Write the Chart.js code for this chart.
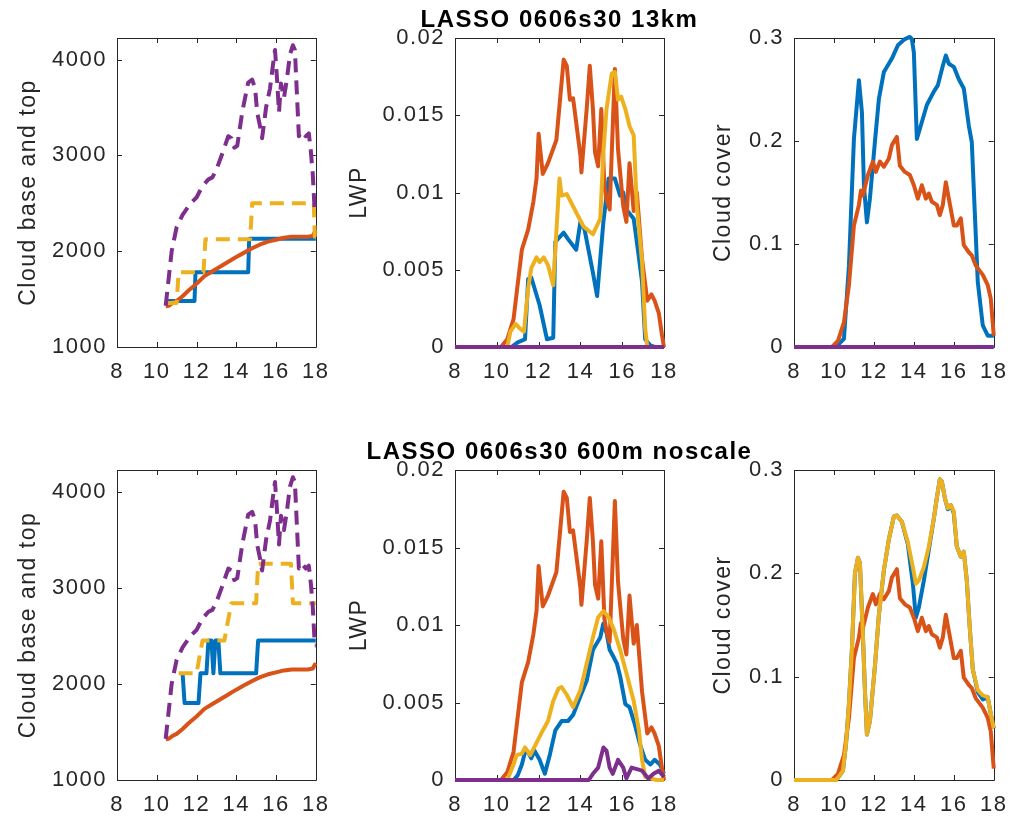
<!DOCTYPE html>
<html>
<head>
<meta charset="utf-8">
<script src="https://cdn.jsdelivr.net/npm/chart.js@4"></script>
<style>
  body { margin: 0; background: #fff; width: 1020px; height: 818px; position: relative; overflow: hidden; }
  canvas { position: absolute; }
</style>
</head>
<body>
<canvas id="tl" width="340" height="390" style="left:0;top:0"></canvas>
<canvas id="tm" width="439" height="390" style="left:340px;top:0"></canvas>
<canvas id="tr" width="338" height="390" style="left:680px;top:0"></canvas>
<canvas id="bl" width="340" height="388" style="left:0;top:430px"></canvas>
<canvas id="bm" width="439" height="388" style="left:340px;top:430px"></canvas>
<canvas id="br" width="338" height="388" style="left:680px;top:430px"></canvas>
<script>
// tick values
const hourTicks = [8, 10, 12, 14, 16, 18];
const baseTicks = [1000, 2000, 3000, 4000];
const lwpTicks = [0, 0.005, 0.01, 0.015, 0.02];
const coverTicks = [0, 0.1, 0.2, 0.3];

const titleTop = 'LASSO 0606s30 13km';
const titleBottom = 'LASSO 0606s30 600m noscale';

// --- cloud base / top (left column) ---
// observed cloud top (purple, dashed), same in both rows
const obsTopT = [10.45, 10.75, 11.0, 11.3, 11.7, 12.0, 12.3, 12.6, 12.8, 13.0, 13.3, 13.6, 13.75, 13.9, 14.05, 14.3, 14.6, 14.8, 14.95, 15.05, 15.2, 15.3, 15.5, 15.7, 15.85, 15.95, 16.05, 16.15, 16.25, 16.4, 16.55, 16.7, 16.85, 16.95, 17.05, 17.15, 17.3, 17.5, 17.65, 17.75, 17.85, 17.95, 18.0];
const obsTopV = [1430, 2000, 2250, 2380, 2500, 2560, 2680, 2750, 2770, 2850, 3020, 3200, 3180, 3080, 3100, 3450, 3760, 3790, 3700, 3450, 3300, 3180, 3500, 3700, 3950, 4100, 3800, 3450, 3750, 3600, 3800, 4050, 4150, 4100, 3650, 3200, 3250, 3200, 3230, 3050, 2800, 2400, 2400];
// observed cloud base (orange)
const obsBaseT = [10.45, 10.6, 10.8, 11.0, 11.3, 11.6, 12.0, 12.4, 12.8, 13.2, 13.6, 14.0, 14.4, 14.8, 15.2, 15.6, 16.0, 16.4, 16.8, 17.2, 17.6, 17.85, 17.95, 18.0];
const obsBaseV = [1424, 1430, 1460, 1480, 1530, 1590, 1660, 1740, 1790, 1840, 1890, 1940, 1985, 2030, 2070, 2100, 2120, 2140, 2150, 2150, 2150, 2160, 2200, 2185];
// 13km model base (blue) and top (yellow dashed)
const km13BaseT = [10.5, 11.9, 11.95, 14.6, 14.65, 18.0];
const km13BaseV = [1480, 1480, 1780, 1780, 2130, 2130];
const km13TopT = [10.45, 11.0, 11.1, 12.35, 12.45, 14.7, 14.8, 17.9, 17.95, 18.0];
const km13TopV = [1460, 1460, 1780, 1780, 2125, 2125, 2500, 2500, 2150, 2150];
// 600m model base (blue) and top (yellow dashed)
const m600BaseT = [11.3, 11.4, 12.1, 12.2, 12.5, 12.6, 12.75, 12.85, 12.95, 13.1, 13.2, 13.3, 15.0, 15.1, 18.0];
const m600BaseV = [2110, 1800, 1800, 2110, 2110, 2450, 2450, 2110, 2450, 2450, 2110, 2110, 2110, 2450, 2450];
const m600TopT = [11.1, 12.0, 12.3, 13.4, 13.75, 15.0, 15.1, 16.75, 16.85, 18.0];
const m600TopV = [2110, 2110, 2450, 2450, 2840, 2840, 3250, 3250, 2840, 2840];

// --- LWP (middle column) ---
const obsLwpT = [8, 10.2, 10.5, 10.8, 10.95, 11.2, 11.5, 11.75, 11.9, 12.0, 12.2, 12.45, 12.85, 13.2, 13.35, 13.5, 13.65, 14.0, 14.05, 14.3, 14.45, 14.6, 14.7, 14.85, 15.0, 15.15, 15.25, 15.4, 15.65, 15.8, 16.05, 16.2, 16.35, 16.55, 16.7, 16.95, 17.2, 17.4, 17.55, 17.75, 17.9, 18.0];
const obsLwpV = [0, 0, 0.0005, 0.0018, 0.0035, 0.0063, 0.0076, 0.0094, 0.0109, 0.0138, 0.0112, 0.0119, 0.0134, 0.0186, 0.0182, 0.016, 0.0161, 0.0124, 0.0113, 0.0154, 0.0182, 0.0154, 0.0126, 0.0117, 0.0154, 0.0104, 0.0096, 0.0089, 0.018, 0.0128, 0.0091, 0.0081, 0.0119, 0.0088, 0.01, 0.0057, 0.003, 0.0034, 0.003, 0.0022, 0.0008, 0];
const km13LwpBlueT = [8, 10.7, 11.0, 11.35, 11.5, 11.65, 12.05, 12.4, 12.7, 12.8, 13.2, 13.4, 13.8, 14.0, 14.2, 14.6, 14.8, 15.1, 15.35, 15.65, 15.9, 16.05, 16.2, 16.55, 16.75, 16.95, 17.1, 17.35, 17.55, 18.0];
const km13LwpBlueV = [0, 0, 0.0003, 0.0005, 0.0044, 0.0045, 0.0027, 0.0005, 0.0006, 0.0068, 0.0074, 0.007, 0.0063, 0.0081, 0.0076, 0.0048, 0.0033, 0.0081, 0.0109, 0.0109, 0.0098, 0.01, 0.0089, 0.0083, 0.0063, 0.0042, 0.0005, 0.0001, 0, 0];
const km13LwpYellowT = [8, 10.5, 10.65, 10.9, 11.1, 11.3, 11.5, 11.65, 11.9, 12.05, 12.25, 12.45, 12.7, 13.0, 13.1, 13.35, 13.65, 14.15, 14.6, 14.95, 15.1, 15.25, 15.5, 15.65, 15.8, 15.95, 16.15, 16.35, 16.55, 16.7, 16.95, 17.1, 17.2, 18.0];
const km13LwpYellowV = [0, 0, 0.001, 0.0015, 0.0012, 0.001, 0.0038, 0.0051, 0.0058, 0.0055, 0.0058, 0.0053, 0.004, 0.0109, 0.0098, 0.0099, 0.0091, 0.0078, 0.0073, 0.0083, 0.0126, 0.0154, 0.0177, 0.0178, 0.016, 0.0162, 0.0154, 0.0143, 0.0137, 0.0091, 0.0055, 0.0012, 0, 0];
const m600LwpBlueT = [8, 10.8, 11.0, 11.2, 11.35, 11.5, 11.65, 11.8, 12.05, 12.3, 12.55, 12.8, 13.1, 13.4, 13.65, 14.0, 14.3, 14.6, 14.95, 15.1, 15.25, 15.4, 15.6, 15.75, 15.9, 16.15, 16.35, 16.6, 16.85, 17.1, 17.35, 17.55, 17.8, 18.0];
const m600LwpBlueV = [0, 0, 0.0003, 0.001, 0.0018, 0.0018, 0.0014, 0.0019, 0.0013, 0.0004, 0.0017, 0.0032, 0.0038, 0.0038, 0.0042, 0.0054, 0.0064, 0.0084, 0.0092, 0.0101, 0.0095, 0.0084, 0.0079, 0.0075, 0.0067, 0.0049, 0.0047, 0.0036, 0.0023, 0.0013, 0.001, 0.0013, 0.001, 0.0004];
const m600LwpYellowT = [8, 10.5, 10.8, 10.95, 11.2, 11.35, 11.6, 11.9, 12.2, 12.45, 12.7, 12.95, 13.1, 13.35, 13.65, 14.0, 14.3, 14.6, 14.85, 15.1, 15.35, 15.6, 15.9, 16.2, 16.55, 16.8, 16.95, 17.1, 17.65, 18.0];
const m600LwpYellowV = [0, 0, 0.001, 0.0016, 0.0017, 0.0021, 0.0016, 0.0024, 0.0032, 0.0038, 0.0051, 0.0059, 0.006, 0.0055, 0.0047, 0.0058, 0.0075, 0.0092, 0.0105, 0.0109, 0.0105, 0.0097, 0.0084, 0.0069, 0.0051, 0.0032, 0.0013, 0.0002, 0, 0];
const m600LwpPurpleT = [8, 14.4, 14.6, 14.85, 15.1, 15.25, 15.4, 15.55, 15.8, 16.05, 16.2, 16.45, 16.7, 16.95, 17.25, 17.5, 17.75, 18.0];
const m600LwpPurpleV = [0, 0, 0.0004, 0.0008, 0.0021, 0.0019, 0.0008, 0.0004, 0.0013, 0.0008, 0.0001, 0.0008, 0.0007, 0.0006, 0.0001, 0.0004, 0.0006, 0.0002];
const zeroT = [8, 18];
const zeroV = [0, 0];

// --- cloud cover (right column) ---
const obsCoverT = [8, 9.9, 10.2, 10.5, 10.75, 11.0, 11.25, 11.35, 11.45, 11.7, 11.95, 12.1, 12.3, 12.5, 12.75, 12.9, 13.15, 13.3, 13.55, 13.8, 14.0, 14.2, 14.4, 14.6, 14.75, 14.9, 15.15, 15.3, 15.45, 15.6, 15.75, 16.0, 16.15, 16.35, 16.5, 16.75, 16.9, 17.1, 17.45, 17.7, 17.85, 18.0];
const obsCoverV = [0, 0, 0.006, 0.024, 0.06, 0.118, 0.138, 0.152, 0.147, 0.167, 0.18, 0.17, 0.18, 0.175, 0.183, 0.196, 0.204, 0.176, 0.17, 0.167, 0.157, 0.144, 0.157, 0.144, 0.149, 0.141, 0.138, 0.128, 0.138, 0.16, 0.144, 0.118, 0.118, 0.125, 0.099, 0.092, 0.089, 0.079, 0.07, 0.06, 0.047, 0.011];
const km13CoverT = [8, 10.1, 10.35, 10.5, 10.75, 11.0, 11.25, 11.4, 11.5, 11.65, 11.8, 12.05, 12.25, 12.5, 12.9, 13.2, 13.55, 13.8, 13.9, 14.0, 14.15, 14.35, 14.65, 15.0, 15.2, 15.45, 15.6, 15.75, 16.0, 16.25, 16.5, 16.75, 16.9, 17.05, 17.2, 17.45, 17.7, 18.0];
const km13CoverV = [0, 0, 0.005, 0.008, 0.079, 0.202, 0.259, 0.228, 0.157, 0.121, 0.144, 0.199, 0.241, 0.267, 0.28, 0.293, 0.299, 0.301, 0.299, 0.286, 0.202, 0.215, 0.235, 0.248, 0.254, 0.273, 0.283, 0.275, 0.272, 0.26, 0.251, 0.215, 0.199, 0.131, 0.063, 0.021, 0.011, 0.011];
const m600CoverT = [8, 10.1, 10.2, 10.45, 10.6, 10.75, 10.9, 11.05, 11.2, 11.3, 11.45, 11.55, 11.65, 11.8, 12.05, 12.25, 12.5, 12.75, 13.0, 13.15, 13.4, 13.7, 13.95, 14.1, 14.25, 14.5, 14.75, 15.0, 15.15, 15.3, 15.4, 15.55, 15.7, 15.85, 16.0, 16.15, 16.35, 16.5, 16.65, 16.8, 16.95, 17.2, 17.45, 17.7, 17.85, 18.0];
const m600CoverBlueV = [0, 0, 0.002, 0.009, 0.034, 0.074, 0.127, 0.2, 0.215, 0.21, 0.14, 0.087, 0.044, 0.057, 0.11, 0.16, 0.203, 0.233, 0.255, 0.256, 0.25, 0.228, 0.19, 0.157, 0.167, 0.193, 0.223, 0.253, 0.273, 0.291, 0.289, 0.273, 0.262, 0.266, 0.258, 0.226, 0.216, 0.221, 0.193, 0.147, 0.107, 0.085, 0.078, 0.08, 0.064, 0.05];
const m600CoverYellowV = [0, 0, 0.002, 0.009, 0.034, 0.074, 0.127, 0.2, 0.215, 0.21, 0.14, 0.087, 0.044, 0.057, 0.11, 0.16, 0.203, 0.233, 0.255, 0.256, 0.25, 0.23, 0.206, 0.19, 0.193, 0.206, 0.226, 0.253, 0.273, 0.291, 0.289, 0.273, 0.263, 0.266, 0.26, 0.226, 0.216, 0.221, 0.193, 0.147, 0.107, 0.087, 0.082, 0.08, 0.064, 0.05];

const BLUE = '#0072BD', ORANGE = '#D95319', YELLOW = '#EDB120', PURPLE = '#7E2F8E';
const INK = '#262626';
const FONT = '"Liberation Sans", Arial, sans-serif';

function line(t, v, color, dashed, order) {
    return {
        data: t.map((x, i) => ({ x: x, y: v[i] })),
        borderColor: color,
        borderWidth: 4,
        borderDash: dashed ? [14, 8] : [],
        borderJoinStyle: 'round',
        pointRadius: 0,
        tension: 0,
        clip: 4,
        order: order
    };
}

// matlab style box with inward ticks on all four sides
const boxTicks = {
    id: 'boxTicks',
    beforeDraw(chart) {
        chart.ctx.letterSpacing = '1.5px';
    },
    beforeDatasetsDraw(chart) {
        const { ctx, chartArea: a, scales: { x, y } } = chart;
        ctx.save();
        ctx.strokeStyle = INK;
        ctx.lineWidth = 1;
        ctx.beginPath();
        x.ticks.forEach(t => {
            const px = Math.round(x.getPixelForValue(t.value)) + 0.5;
            ctx.moveTo(px, a.bottom); ctx.lineTo(px, a.bottom - 5);
            ctx.moveTo(px, a.top); ctx.lineTo(px, a.top + 5);
        });
        y.ticks.forEach(t => {
            const py = Math.round(y.getPixelForValue(t.value)) + 0.5;
            ctx.moveTo(a.left, py); ctx.lineTo(a.left + 5, py);
            ctx.moveTo(a.right, py); ctx.lineTo(a.right - 5, py);
        });
        ctx.rect(Math.round(a.left) + 0.5, Math.round(a.top) + 0.5, Math.round(a.width), Math.round(a.height));
        ctx.stroke();
        ctx.restore();
    }
};

function makePanel(id, p, datasets) {
    const scales = {
        x: {
            type: 'linear', min: 8, max: 18,
            afterBuildTicks: s => { s.ticks = hourTicks.map(v => ({ value: v })); },
            afterFit: s => { s.height = p.xH; },
            grid: { display: false, drawTicks: false },
            border: { display: false },
            ticks: { color: INK, padding: 12, autoSkip: false, maxRotation: 0, font: { family: FONT, size: 22 } }
        },
        y: {
            type: 'linear', min: p.min, max: p.max,
            afterBuildTicks: s => { s.ticks = p.ticks.map(v => ({ value: v })); },
            afterFit: s => { s.width = p.yW; },
            grid: { display: false, drawTicks: false },
            border: { display: false },
            ticks: { color: INK, padding: 10, font: { family: FONT, size: 22 }, callback: v => String(+v.toFixed(4)) },
            title: { display: true, text: p.label, color: INK, font: { family: FONT, size: 23 }, padding: { top: p.labelPad, bottom: 0 } }
        }
    };
    const plugins = { legend: { display: false }, tooltip: { enabled: false } };
    let padding = { top: p.padT || 0, right: p.padR || 0, left: 0, bottom: 0 };
    if (p.title) {
        // spacer on the right keeps the title centred over the axes
        scales.yr = {
            type: 'linear', position: 'right',
            afterFit: s => { s.width = p.padR; },
            grid: { display: false }, border: { display: false }, ticks: { display: false }
        };
        padding = { top: 0, right: 0, left: 0, bottom: 0 };
        plugins.title = {
            display: true, text: p.title, color: '#000', fullSize: true,
            font: { family: FONT, size: 24, weight: 'bold', lineHeight: 1.2 },
            padding: { top: p.titleTop, bottom: p.titleBox - p.titleTop - 28.8 }
        };
    }
    new Chart(document.getElementById(id), {
        type: 'line',
        data: { datasets: datasets },
        options: {
            responsive: false,
            animation: false,
            events: [],
            layout: { padding: padding },
            scales: scales,
            plugins: plugins
        },
        plugins: [boxTicks]
    });
}

makePanel('tl', { yW: 117, padT: 38, padR: 14, xH: 43, min: 1000, max: 4225, ticks: baseTicks, label: 'Cloud base and top', labelPad: 15 }, [
    line(km13BaseT, km13BaseV, BLUE, false, 4),
    line(obsBaseT, obsBaseV, ORANGE, false, 3),
    line(km13TopT, km13TopV, YELLOW, true, 2),
    line(obsTopT, obsTopV, PURPLE, true, 1)
]);
makePanel('tm', { yW: 115, padR: 115, xH: 43, min: 0, max: 0.02, ticks: lwpTicks, label: 'LWP', labelPad: 6, title: titleTop, titleTop: 5.6, titleBox: 38 }, [
    line(km13LwpBlueT, km13LwpBlueV, BLUE, false, 4),
    line(obsLwpT, obsLwpV, ORANGE, false, 3),
    line(km13LwpYellowT, km13LwpYellowV, YELLOW, false, 2),
    line(zeroT, zeroV, PURPLE, false, 1)
]);
makePanel('tr', { yW: 114, padT: 38, padR: 15, xH: 43, min: 0, max: 0.3, ticks: coverTicks, label: 'Cloud cover', labelPad: 30 }, [
    line(km13CoverT, km13CoverV, BLUE, false, 4),
    line(obsCoverT, obsCoverV, ORANGE, false, 3),
    line(zeroT, zeroV, PURPLE, false, 1)
]);
makePanel('bl', { yW: 117, padT: 40, padR: 14, xH: 38, min: 1000, max: 4225, ticks: baseTicks, label: 'Cloud base and top', labelPad: 15 }, [
    line(m600BaseT, m600BaseV, BLUE, false, 4),
    line(obsBaseT, obsBaseV, ORANGE, false, 3),
    line(m600TopT, m600TopV, YELLOW, true, 2),
    line(obsTopT, obsTopV, PURPLE, true, 1)
]);
makePanel('bm', { yW: 115, padR: 115, xH: 38, min: 0, max: 0.02, ticks: lwpTicks, label: 'LWP', labelPad: 6, title: titleBottom, titleTop: 7.6, titleBox: 40 }, [
    line(m600LwpBlueT, m600LwpBlueV, BLUE, false, 4),
    line(obsLwpT, obsLwpV, ORANGE, false, 3),
    line(m600LwpYellowT, m600LwpYellowV, YELLOW, false, 2),
    line(m600LwpPurpleT, m600LwpPurpleV, PURPLE, false, 1)
]);
makePanel('br', { yW: 114, padT: 40, padR: 15, xH: 38, min: 0, max: 0.3, ticks: coverTicks, label: 'Cloud cover', labelPad: 30 }, [
    line(m600CoverT, m600CoverBlueV, BLUE, false, 4),
    line(obsCoverT, obsCoverV, ORANGE, false, 3),
    line(m600CoverT, m600CoverYellowV, YELLOW, false, 2)
]);
</script>
</body>
</html>
